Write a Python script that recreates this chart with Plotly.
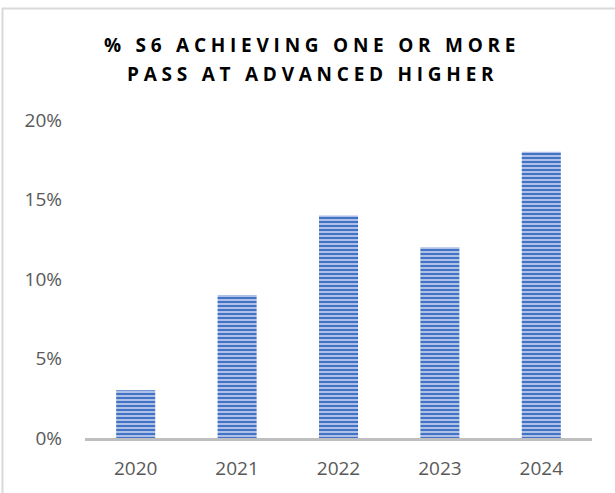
import plotly.graph_objects as go

years = ["2020", "2021", "2022", "2023", "2024"]
values = [0.03, 0.09, 0.14, 0.12, 0.18]
y_ticks = [0, 0.05, 0.10, 0.15, 0.20]
y_tick_labels = ["0%", "5%", "10%", "15%", "20%"]
title_lines = ["% S6 ACHIEVING ONE OR MORE", "PASS AT ADVANCED HIGHER"]

W, H = 615, 493
L, R, T, B = 85, 23, 120, 55
PW, PH = W - L - R, H - T - B

def px(x):
    return (x - L) / PW

def py(y):
    return (H - B - y) / PH

SP = "\u2005"  # four-per-em space used as letter spacing
def spaced(s):
    return SP.join(s)

fig = go.Figure(go.Bar(
    x=years, y=values,
    marker=dict(
        color="#8eaadc",
        line=dict(width=0),
        pattern=dict(shape="-", fgcolor="#4472c4", bgcolor="#b7c9ec",
                     size=4, solidity=0.55, fillmode="replace"),
    ),
    width=0.385,
))

title_y = [45, 74]
annotations = [dict(
    text=spaced(line), xref="paper", yref="paper",
    x=px(310), y=py(yc), xanchor="center", yanchor="middle",
    showarrow=False, font=dict(family="Open Sans", size=19, color="#000000", weight="bold"),
) for line, yc in zip(title_lines, title_y)]

fig.update_layout(
    width=W, height=H,
    margin=dict(l=L, r=R, t=T, b=B),
    paper_bgcolor="white", plot_bgcolor="white",
    showlegend=False,
    font=dict(family="Open Sans", color="#595959"),
    annotations=annotations,
    shapes=[dict(type="rect", xref="paper", yref="paper",
                 x0=px(2.5), x1=px(640), y0=py(520), y1=py(8.5),
                 line=dict(color="#d9d9d9", width=2), layer="below")],
)
fig.update_xaxes(showline=True, linecolor="#bfbfbf", linewidth=3, showgrid=False,
                 ticks="", tickfont=dict(size=19, color="#595959"), ticklabelstandoff=11)
fig.update_yaxes(range=[0, 0.2], tickvals=y_ticks, ticktext=y_tick_labels,
                 showgrid=False, zeroline=False, showline=False, ticks="",
                 tickfont=dict(size=19, color="#595959"), ticklabelstandoff=22)

fig.write_html("out.html", config={"displayModeBar": False},
               post_script="document.body.style.margin='0';")
